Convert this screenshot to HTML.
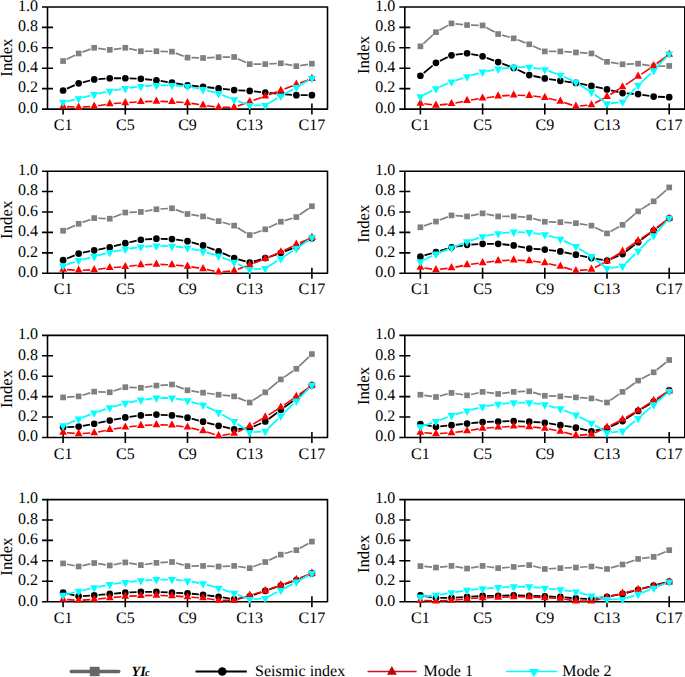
<!DOCTYPE html>
<html><head><meta charset="utf-8"><style>
html,body{margin:0;padding:0;background:#fff;}
body{width:685px;height:677px;overflow:hidden;}
svg{display:block;}
text{text-rendering:geometricPrecision;}
.tk{font-family:"Liberation Serif",serif;font-size:16px;fill:#000;}
.idx{font-family:"Liberation Serif",serif;font-size:16.8px;fill:#000;}
.lg{font-family:"Liberation Serif",serif;font-size:16px;fill:#000;}
</style></head><body>
<svg width="685" height="677" viewBox="0 0 685 677">
<g><path d="M42.0 7.0H327.5V109.1H42.0M47.5 7.0V109.1" stroke="#000" stroke-width="1.6" fill="none" stroke-linejoin="round"/><path d="M42.0 88.66H53.0M42.0 68.22H53.0M42.0 47.78H53.0M42.0 27.34H53.0M63.10 103.6V114.6M125.30 103.6V114.6M187.50 103.6V114.6M249.70 103.6V114.6M311.90 103.6V114.6" stroke="#000" stroke-width="1.6" fill="none"/><text x="38.0" y="112.90" text-anchor="end" class="tk">0.0</text><text x="38.0" y="92.46" text-anchor="end" class="tk">0.2</text><text x="38.0" y="72.02" text-anchor="end" class="tk">0.4</text><text x="38.0" y="51.58" text-anchor="end" class="tk">0.6</text><text x="38.0" y="31.14" text-anchor="end" class="tk">0.8</text><text x="38.0" y="10.70" text-anchor="end" class="tk">1.0</text><text x="63.10" y="130.10" text-anchor="middle" class="tk">C1</text><text x="125.30" y="130.10" text-anchor="middle" class="tk">C5</text><text x="187.50" y="130.10" text-anchor="middle" class="tk">C9</text><text x="249.70" y="130.10" text-anchor="middle" class="tk">C13</text><text x="311.90" y="130.10" text-anchor="middle" class="tk">C17</text><text transform="translate(11.799999999999997,57.60) rotate(-90)" text-anchor="middle" class="idx">Index</text><path d="M66.70 59.32L75.05 55.25M82.40 52.12L90.45 49.16M98.17 48.30L105.78 49.30M113.72 49.30L121.33 48.30M129.20 48.65L136.95 50.38M144.85 51.25L152.40 51.25M160.40 51.36L167.95 51.56M175.69 53.09L183.76 56.17M191.50 57.70L199.05 57.89M207.04 57.79L214.61 57.39M222.60 57.13L230.15 57.03M237.78 58.65L246.07 62.46M253.70 64.13L261.25 64.13M269.24 63.92L276.81 63.52M284.73 64.04L292.42 65.45M300.30 65.55L307.95 64.34" stroke="#808080" stroke-width="1.7" fill="none"/><rect x="60.25" y="58.21" width="5.7" height="5.7" fill="#808080"/><rect x="75.80" y="50.65" width="5.7" height="5.7" fill="#808080"/><rect x="91.35" y="44.93" width="5.7" height="5.7" fill="#808080"/><rect x="106.90" y="46.97" width="5.7" height="5.7" fill="#808080"/><rect x="122.45" y="44.93" width="5.7" height="5.7" fill="#808080"/><rect x="138.00" y="48.40" width="5.7" height="5.7" fill="#808080"/><rect x="153.55" y="48.40" width="5.7" height="5.7" fill="#808080"/><rect x="169.10" y="48.81" width="5.7" height="5.7" fill="#808080"/><rect x="184.65" y="54.74" width="5.7" height="5.7" fill="#808080"/><rect x="200.20" y="55.15" width="5.7" height="5.7" fill="#808080"/><rect x="215.75" y="54.33" width="5.7" height="5.7" fill="#808080"/><rect x="231.30" y="54.13" width="5.7" height="5.7" fill="#808080"/><rect x="246.85" y="61.28" width="5.7" height="5.7" fill="#808080"/><rect x="262.40" y="61.28" width="5.7" height="5.7" fill="#808080"/><rect x="277.95" y="60.46" width="5.7" height="5.7" fill="#808080"/><rect x="293.50" y="63.32" width="5.7" height="5.7" fill="#808080"/><rect x="309.05" y="60.87" width="5.7" height="5.7" fill="#808080"/><path d="M67.01 88.69L74.74 85.13M82.82 82.30L90.03 80.50M98.49 79.12L105.46 78.57M114.05 78.23L121.00 78.23M129.60 78.40L136.55 78.67M145.13 79.23L152.12 79.88M160.65 80.94L167.70 82.05M176.19 83.45L183.26 84.66M191.78 85.77L198.77 86.42M207.33 87.26L214.32 88.00M222.88 88.90L229.87 89.63M238.44 90.31L245.41 90.67M253.98 91.35L260.97 92.08M269.53 92.93L276.52 93.57M285.09 94.30L292.06 94.85M300.65 95.19L307.60 95.19" stroke="#000" stroke-width="1.8" fill="none"/><circle cx="63.10" cy="90.49" r="3.35" fill="#000"/><circle cx="78.65" cy="83.34" r="3.35" fill="#000"/><circle cx="94.20" cy="79.45" r="3.35" fill="#000"/><circle cx="109.75" cy="78.23" r="3.35" fill="#000"/><circle cx="125.30" cy="78.23" r="3.35" fill="#000"/><circle cx="140.85" cy="78.84" r="3.35" fill="#000"/><circle cx="156.40" cy="80.27" r="3.35" fill="#000"/><circle cx="171.95" cy="82.72" r="3.35" fill="#000"/><circle cx="187.50" cy="85.38" r="3.35" fill="#000"/><circle cx="203.05" cy="86.81" r="3.35" fill="#000"/><circle cx="218.60" cy="88.45" r="3.35" fill="#000"/><circle cx="234.15" cy="90.08" r="3.35" fill="#000"/><circle cx="249.70" cy="90.90" r="3.35" fill="#000"/><circle cx="265.25" cy="92.53" r="3.35" fill="#000"/><circle cx="280.80" cy="93.96" r="3.35" fill="#000"/><circle cx="296.35" cy="95.19" r="3.35" fill="#000"/><circle cx="311.90" cy="95.19" r="3.35" fill="#000"/><path d="M67.09 106.62L74.66 107.02M82.64 107.02L90.21 106.62M98.14 105.74L105.81 104.43M113.74 103.49L121.31 102.99M129.29 102.47L136.86 101.97M144.85 101.60L152.40 101.41M160.40 101.41L167.95 101.60M175.94 101.97L183.51 102.47M191.45 103.35L199.10 104.56M207.02 105.70L214.63 106.71M222.60 107.23L230.15 107.23M237.92 105.89L245.93 103.05M253.47 100.37L261.48 97.53M269.00 94.81L277.05 91.85M284.52 89.00L292.63 85.80M300.10 82.96L308.15 80.00" stroke="#ff0000" stroke-width="1.6" fill="none"/><polygon points="59.20,108.81 67.00,108.81 63.10,101.61" fill="#ff0000"/><polygon points="74.75,109.63 82.55,109.63 78.65,102.43" fill="#ff0000"/><polygon points="90.30,108.81 98.10,108.81 94.20,101.61" fill="#ff0000"/><polygon points="105.85,106.15 113.65,106.15 109.75,98.95" fill="#ff0000"/><polygon points="121.40,105.13 129.20,105.13 125.30,97.93" fill="#ff0000"/><polygon points="136.95,104.11 144.75,104.11 140.85,96.91" fill="#ff0000"/><polygon points="152.50,103.70 160.30,103.70 156.40,96.50" fill="#ff0000"/><polygon points="168.05,104.11 175.85,104.11 171.95,96.91" fill="#ff0000"/><polygon points="183.60,105.13 191.40,105.13 187.50,97.93" fill="#ff0000"/><polygon points="199.15,107.58 206.95,107.58 203.05,100.38" fill="#ff0000"/><polygon points="214.70,109.63 222.50,109.63 218.60,102.43" fill="#ff0000"/><polygon points="230.25,109.63 238.05,109.63 234.15,102.43" fill="#ff0000"/><polygon points="245.80,104.11 253.60,104.11 249.70,96.91" fill="#ff0000"/><polygon points="261.35,98.59 269.15,98.59 265.25,91.39" fill="#ff0000"/><polygon points="276.90,92.87 284.70,92.87 280.80,85.67" fill="#ff0000"/><polygon points="292.45,86.74 300.25,86.74 296.35,79.54" fill="#ff0000"/><polygon points="308.00,81.01 315.80,81.01 311.90,73.81" fill="#ff0000"/><path d="M67.00 101.27L74.75 99.54M82.52 97.65L90.33 95.59M98.10 93.71L105.85 91.98M113.69 90.43L121.36 89.12M129.27 87.93L136.88 86.92M144.84 86.14L152.41 85.64M160.40 85.38L167.95 85.38M175.94 85.64L183.51 86.14M191.42 87.18L199.13 88.69M206.92 90.49L214.73 92.54M222.32 95.02L230.43 98.22M237.90 101.07L245.95 104.03M253.70 105.41L261.25 105.41M268.67 103.34L277.38 98.08M284.30 94.08L292.85 89.36M299.79 85.39L308.46 80.26" stroke="#00ffff" stroke-width="1.8" fill="none"/><polygon points="59.00,99.67 67.20,99.67 63.10,107.07" fill="#00ffff"/><polygon points="74.55,96.20 82.75,96.20 78.65,103.60" fill="#00ffff"/><polygon points="90.10,92.11 98.30,92.11 94.20,99.51" fill="#00ffff"/><polygon points="105.65,88.64 113.85,88.64 109.75,96.04" fill="#00ffff"/><polygon points="121.20,85.98 129.40,85.98 125.30,93.38" fill="#00ffff"/><polygon points="136.75,83.94 144.95,83.94 140.85,91.34" fill="#00ffff"/><polygon points="152.30,82.91 160.50,82.91 156.40,90.31" fill="#00ffff"/><polygon points="167.85,82.91 176.05,82.91 171.95,90.31" fill="#00ffff"/><polygon points="183.40,83.94 191.60,83.94 187.50,91.34" fill="#00ffff"/><polygon points="198.95,87.00 207.15,87.00 203.05,94.40" fill="#00ffff"/><polygon points="214.50,91.09 222.70,91.09 218.60,98.49" fill="#00ffff"/><polygon points="230.05,97.22 238.25,97.22 234.15,104.62" fill="#00ffff"/><polygon points="245.60,102.94 253.80,102.94 249.70,110.34" fill="#00ffff"/><polygon points="261.15,102.94 269.35,102.94 265.25,110.34" fill="#00ffff"/><polygon points="276.70,93.54 284.90,93.54 280.80,100.94" fill="#00ffff"/><polygon points="292.25,84.96 300.45,84.96 296.35,92.36" fill="#00ffff"/><polygon points="307.80,75.76 316.00,75.76 311.90,83.16" fill="#00ffff"/></g>
<g><path d="M399.3 7.0H684.8V109.1H399.3M404.8 7.0V109.1" stroke="#000" stroke-width="1.6" fill="none" stroke-linejoin="round"/><path d="M399.3 88.66H410.3M399.3 68.22H410.3M399.3 47.78H410.3M399.3 27.34H410.3M420.40 103.6V114.6M482.60 103.6V114.6M544.80 103.6V114.6M607.00 103.6V114.6M669.20 103.6V114.6" stroke="#000" stroke-width="1.6" fill="none"/><text x="395.3" y="112.90" text-anchor="end" class="tk">0.0</text><text x="395.3" y="92.46" text-anchor="end" class="tk">0.2</text><text x="395.3" y="72.02" text-anchor="end" class="tk">0.4</text><text x="395.3" y="51.58" text-anchor="end" class="tk">0.6</text><text x="395.3" y="31.14" text-anchor="end" class="tk">0.8</text><text x="395.3" y="10.70" text-anchor="end" class="tk">1.0</text><text x="420.40" y="130.10" text-anchor="middle" class="tk">C1</text><text x="482.60" y="130.10" text-anchor="middle" class="tk">C5</text><text x="544.80" y="130.10" text-anchor="middle" class="tk">C9</text><text x="607.00" y="130.10" text-anchor="middle" class="tk">C13</text><text x="669.20" y="130.10" text-anchor="middle" class="tk">C17</text><text transform="translate(369.1,55.00) rotate(-90)" text-anchor="middle" class="idx">Index</text><path d="M423.36 43.62L432.99 34.89M439.43 30.24L448.02 25.38M455.48 23.83L463.07 24.63M471.05 25.16L478.60 25.35M486.10 27.39L494.65 32.11M502.01 35.11L509.84 37.27M517.44 39.76L525.51 42.84M532.88 45.93L541.17 49.74M548.80 51.41L556.35 51.41M564.34 51.68L571.91 52.17M579.89 52.70L587.46 53.20M594.97 55.36L603.48 59.94M610.95 62.46L618.60 63.67M626.55 64.13L634.10 63.83M642.04 64.35L649.71 65.66M657.65 66.23L665.20 66.03" stroke="#808080" stroke-width="1.7" fill="none"/><rect x="417.55" y="43.46" width="5.7" height="5.7" fill="#808080"/><rect x="433.10" y="29.35" width="5.7" height="5.7" fill="#808080"/><rect x="448.65" y="20.57" width="5.7" height="5.7" fill="#808080"/><rect x="464.20" y="22.20" width="5.7" height="5.7" fill="#808080"/><rect x="479.75" y="22.61" width="5.7" height="5.7" fill="#808080"/><rect x="495.30" y="31.19" width="5.7" height="5.7" fill="#808080"/><rect x="510.85" y="35.48" width="5.7" height="5.7" fill="#808080"/><rect x="526.40" y="41.41" width="5.7" height="5.7" fill="#808080"/><rect x="541.95" y="48.56" width="5.7" height="5.7" fill="#808080"/><rect x="557.50" y="48.56" width="5.7" height="5.7" fill="#808080"/><rect x="573.05" y="49.59" width="5.7" height="5.7" fill="#808080"/><rect x="588.60" y="50.61" width="5.7" height="5.7" fill="#808080"/><rect x="604.15" y="58.99" width="5.7" height="5.7" fill="#808080"/><rect x="619.70" y="61.44" width="5.7" height="5.7" fill="#808080"/><rect x="635.25" y="60.83" width="5.7" height="5.7" fill="#808080"/><rect x="650.80" y="63.48" width="5.7" height="5.7" fill="#808080"/><rect x="666.35" y="63.08" width="5.7" height="5.7" fill="#808080"/><path d="M423.71 72.99L432.64 65.60M439.82 60.97L447.63 57.17M455.76 54.73L462.79 53.81M471.27 54.08L478.38 55.48M486.64 57.80L494.11 60.55M502.17 63.57L509.68 66.43M517.61 69.76L525.34 73.32M533.46 76.00L540.59 77.50M549.05 79.06L556.10 80.17M564.61 81.40L571.64 82.32M580.12 83.72L587.23 85.12M595.65 86.89L602.80 88.49M611.18 90.41L618.37 92.11M626.84 93.38L633.81 93.84M642.35 94.79L649.40 95.91M657.95 96.75L664.90 97.02" stroke="#000" stroke-width="1.8" fill="none"/><circle cx="420.40" cy="75.73" r="3.35" fill="#000"/><circle cx="435.95" cy="62.86" r="3.35" fill="#000"/><circle cx="451.50" cy="55.29" r="3.35" fill="#000"/><circle cx="467.05" cy="53.25" r="3.35" fill="#000"/><circle cx="482.60" cy="56.32" r="3.35" fill="#000"/><circle cx="498.15" cy="62.04" r="3.35" fill="#000"/><circle cx="513.70" cy="67.96" r="3.35" fill="#000"/><circle cx="529.25" cy="75.12" r="3.35" fill="#000"/><circle cx="544.80" cy="78.39" r="3.35" fill="#000"/><circle cx="560.35" cy="80.84" r="3.35" fill="#000"/><circle cx="575.90" cy="82.88" r="3.35" fill="#000"/><circle cx="591.45" cy="85.95" r="3.35" fill="#000"/><circle cx="607.00" cy="89.42" r="3.35" fill="#000"/><circle cx="622.55" cy="93.10" r="3.35" fill="#000"/><circle cx="638.10" cy="94.12" r="3.35" fill="#000"/><circle cx="653.65" cy="96.58" r="3.35" fill="#000"/><circle cx="669.20" cy="97.19" r="3.35" fill="#000"/><path d="M424.37 103.82L431.98 104.82M439.93 104.92L447.52 104.13M455.42 102.93L463.13 101.42M471.00 100.02L478.65 98.81M486.57 97.67L494.18 96.67M502.14 95.88L509.71 95.39M517.70 95.23L525.25 95.43M533.22 96.05L540.83 97.06M548.69 98.50L556.46 100.33M564.15 102.50L572.10 105.12M579.88 106.00L587.47 105.30M594.97 103.04L603.48 98.45M610.40 94.45L619.15 89.05M625.85 84.69L634.80 78.58M641.42 74.09L650.33 68.13M656.85 63.50L666.00 56.65" stroke="#ff0000" stroke-width="1.6" fill="none"/><polygon points="416.50,105.70 424.30,105.70 420.40,98.50" fill="#ff0000"/><polygon points="432.05,107.74 439.85,107.74 435.95,100.54" fill="#ff0000"/><polygon points="447.60,106.11 455.40,106.11 451.50,98.91" fill="#ff0000"/><polygon points="463.15,103.04 470.95,103.04 467.05,95.84" fill="#ff0000"/><polygon points="478.70,100.59 486.50,100.59 482.60,93.39" fill="#ff0000"/><polygon points="494.25,98.55 502.05,98.55 498.15,91.35" fill="#ff0000"/><polygon points="509.80,97.52 517.60,97.52 513.70,90.32" fill="#ff0000"/><polygon points="525.35,97.93 533.15,97.93 529.25,90.73" fill="#ff0000"/><polygon points="540.90,99.98 548.70,99.98 544.80,92.78" fill="#ff0000"/><polygon points="556.45,103.66 564.25,103.66 560.35,96.46" fill="#ff0000"/><polygon points="572.00,108.76 579.80,108.76 575.90,101.56" fill="#ff0000"/><polygon points="587.55,107.33 595.35,107.33 591.45,100.13" fill="#ff0000"/><polygon points="603.10,98.95 610.90,98.95 607.00,91.75" fill="#ff0000"/><polygon points="618.65,89.35 626.45,89.35 622.55,82.15" fill="#ff0000"/><polygon points="634.20,78.72 642.00,78.72 638.10,71.52" fill="#ff0000"/><polygon points="649.75,68.30 657.55,68.30 653.65,61.10" fill="#ff0000"/><polygon points="665.30,56.65 673.10,56.65 669.20,49.45" fill="#ff0000"/><path d="M423.94 94.92L432.41 90.47M439.62 87.01L447.83 83.45M455.30 80.61L463.25 78.00M470.88 75.60L478.77 73.21M486.52 71.28L494.23 69.76M502.12 68.52L509.73 67.62M517.70 67.15L525.25 67.15M533.20 67.77L540.85 68.98M548.57 70.94L556.58 73.78M563.98 76.79L572.27 80.60M579.28 84.40L588.07 89.95M594.65 94.48L603.80 101.33M610.97 103.26L618.58 102.36M625.29 98.98L635.36 88.25M641.01 82.59L650.74 73.37M656.37 67.69L666.48 56.79" stroke="#00ffff" stroke-width="1.8" fill="none"/><polygon points="416.30,94.31 424.50,94.31 420.40,101.71" fill="#00ffff"/><polygon points="431.85,86.14 440.05,86.14 435.95,93.54" fill="#00ffff"/><polygon points="447.40,79.40 455.60,79.40 451.50,86.80" fill="#00ffff"/><polygon points="462.95,74.29 471.15,74.29 467.05,81.69" fill="#00ffff"/><polygon points="478.50,69.59 486.70,69.59 482.60,76.99" fill="#00ffff"/><polygon points="494.05,66.52 502.25,66.52 498.15,73.92" fill="#00ffff"/><polygon points="509.60,64.68 517.80,64.68 513.70,72.08" fill="#00ffff"/><polygon points="525.15,64.68 533.35,64.68 529.25,72.08" fill="#00ffff"/><polygon points="540.70,67.13 548.90,67.13 544.80,74.53" fill="#00ffff"/><polygon points="556.25,72.65 564.45,72.65 560.35,80.05" fill="#00ffff"/><polygon points="571.80,79.80 580.00,79.80 575.90,87.20" fill="#00ffff"/><polygon points="587.35,89.61 595.55,89.61 591.45,97.01" fill="#00ffff"/><polygon points="602.90,101.26 611.10,101.26 607.00,108.66" fill="#00ffff"/><polygon points="618.45,99.42 626.65,99.42 622.55,106.82" fill="#00ffff"/><polygon points="634.00,82.87 642.20,82.87 638.10,90.27" fill="#00ffff"/><polygon points="649.55,68.15 657.75,68.15 653.65,75.55" fill="#00ffff"/><polygon points="665.10,51.40 673.30,51.40 669.20,58.80" fill="#00ffff"/></g>
<g><path d="M42.0 171.19999999999996H327.5V273.29999999999995H42.0M47.5 171.19999999999996V273.29999999999995" stroke="#000" stroke-width="1.6" fill="none" stroke-linejoin="round"/><path d="M42.0 252.86H53.0M42.0 232.42H53.0M42.0 211.98H53.0M42.0 191.54H53.0M63.10 267.79999999999995V278.79999999999995M125.30 267.79999999999995V278.79999999999995M187.50 267.79999999999995V278.79999999999995M249.70 267.79999999999995V278.79999999999995M311.90 267.79999999999995V278.79999999999995" stroke="#000" stroke-width="1.6" fill="none"/><text x="38.0" y="277.10" text-anchor="end" class="tk">0.0</text><text x="38.0" y="256.66" text-anchor="end" class="tk">0.2</text><text x="38.0" y="236.22" text-anchor="end" class="tk">0.4</text><text x="38.0" y="215.78" text-anchor="end" class="tk">0.6</text><text x="38.0" y="195.34" text-anchor="end" class="tk">0.8</text><text x="38.0" y="174.90" text-anchor="end" class="tk">1.0</text><text x="63.10" y="294.30" text-anchor="middle" class="tk">C1</text><text x="125.30" y="294.30" text-anchor="middle" class="tk">C5</text><text x="187.50" y="294.30" text-anchor="middle" class="tk">C9</text><text x="249.70" y="294.30" text-anchor="middle" class="tk">C13</text><text x="311.90" y="294.30" text-anchor="middle" class="tk">C17</text><text transform="translate(11.799999999999997,219.80) rotate(-90)" text-anchor="middle" class="idx">Index</text><path d="M66.75 229.11L75.00 225.43M82.40 222.41L90.45 219.45M98.20 218.23L105.75 218.53M113.47 217.22L121.58 214.02M129.30 212.40L136.85 212.10M144.79 211.27L152.46 209.96M160.39 209.02L167.96 208.52M175.70 209.64L183.75 212.60M191.45 214.61L199.10 215.81M206.88 217.59L214.77 219.98M222.44 222.25L230.31 224.52M237.57 227.70L246.28 232.97M253.45 233.65L261.50 230.69M268.85 227.56L277.20 223.50M284.63 220.59L292.52 218.21M299.63 214.76L308.62 208.50" stroke="#808080" stroke-width="1.7" fill="none"/><rect x="60.25" y="227.89" width="5.7" height="5.7" fill="#808080"/><rect x="75.80" y="220.94" width="5.7" height="5.7" fill="#808080"/><rect x="91.35" y="215.22" width="5.7" height="5.7" fill="#808080"/><rect x="106.90" y="215.83" width="5.7" height="5.7" fill="#808080"/><rect x="122.45" y="209.70" width="5.7" height="5.7" fill="#808080"/><rect x="138.00" y="209.09" width="5.7" height="5.7" fill="#808080"/><rect x="153.55" y="206.43" width="5.7" height="5.7" fill="#808080"/><rect x="169.10" y="205.41" width="5.7" height="5.7" fill="#808080"/><rect x="184.65" y="211.13" width="5.7" height="5.7" fill="#808080"/><rect x="200.20" y="213.59" width="5.7" height="5.7" fill="#808080"/><rect x="215.75" y="218.29" width="5.7" height="5.7" fill="#808080"/><rect x="231.30" y="222.78" width="5.7" height="5.7" fill="#808080"/><rect x="246.85" y="232.18" width="5.7" height="5.7" fill="#808080"/><rect x="262.40" y="226.46" width="5.7" height="5.7" fill="#808080"/><rect x="277.95" y="218.90" width="5.7" height="5.7" fill="#808080"/><rect x="293.50" y="214.20" width="5.7" height="5.7" fill="#808080"/><rect x="309.05" y="203.37" width="5.7" height="5.7" fill="#808080"/><path d="M67.06 258.50L74.69 255.30M82.86 252.74L89.99 251.24M98.42 249.53L105.53 248.12M113.91 246.20L121.14 244.30M129.50 242.27L136.65 240.67M145.14 239.45L152.11 238.99M160.70 238.82L167.65 239.00M176.21 239.68L183.24 240.60M191.65 242.31L198.90 244.31M207.07 246.98L214.58 249.85M222.54 253.09L230.21 256.41M238.28 259.32L245.57 261.43M253.83 261.43L261.12 259.32M269.34 256.78L276.71 254.36M284.80 251.44L292.35 248.46M300.11 244.81L308.14 240.38" stroke="#000" stroke-width="1.8" fill="none"/><circle cx="63.10" cy="260.17" r="3.35" fill="#000"/><circle cx="78.65" cy="253.63" r="3.35" fill="#000"/><circle cx="94.20" cy="250.36" r="3.35" fill="#000"/><circle cx="109.75" cy="247.29" r="3.35" fill="#000"/><circle cx="125.30" cy="243.21" r="3.35" fill="#000"/><circle cx="140.85" cy="239.73" r="3.35" fill="#000"/><circle cx="156.40" cy="238.71" r="3.35" fill="#000"/><circle cx="171.95" cy="239.12" r="3.35" fill="#000"/><circle cx="187.50" cy="241.16" r="3.35" fill="#000"/><circle cx="203.05" cy="245.45" r="3.35" fill="#000"/><circle cx="218.60" cy="251.38" r="3.35" fill="#000"/><circle cx="234.15" cy="258.12" r="3.35" fill="#000"/><circle cx="249.70" cy="262.62" r="3.35" fill="#000"/><circle cx="265.25" cy="258.12" r="3.35" fill="#000"/><circle cx="280.80" cy="253.02" r="3.35" fill="#000"/><circle cx="296.35" cy="246.88" r="3.35" fill="#000"/><circle cx="311.90" cy="238.30" r="3.35" fill="#000"/><path d="M67.09 269.61L74.66 270.10M82.65 270.21L90.20 269.91M98.17 269.23L105.78 268.23M113.74 267.45L121.31 266.95M129.27 266.22L136.88 265.32M144.85 264.69L152.40 264.39M160.40 264.39L167.95 264.69M175.93 265.21L183.52 265.91M191.45 266.90L199.10 268.11M206.96 269.55L214.69 271.18M222.59 271.69L230.16 271.09M237.89 269.35L245.96 266.27M253.42 263.38L261.53 260.18M268.92 257.12L277.13 253.56M284.40 250.22L292.75 246.16M300.02 242.82L308.23 239.26" stroke="#ff0000" stroke-width="1.6" fill="none"/><polygon points="59.20,271.74 67.00,271.74 63.10,264.54" fill="#ff0000"/><polygon points="74.75,272.76 82.55,272.76 78.65,265.56" fill="#ff0000"/><polygon points="90.30,272.15 98.10,272.15 94.20,264.95" fill="#ff0000"/><polygon points="105.85,270.11 113.65,270.11 109.75,262.91" fill="#ff0000"/><polygon points="121.40,269.09 129.20,269.09 125.30,261.89" fill="#ff0000"/><polygon points="136.95,267.25 144.75,267.25 140.85,260.05" fill="#ff0000"/><polygon points="152.50,266.63 160.30,266.63 156.40,259.43" fill="#ff0000"/><polygon points="168.05,267.25 175.85,267.25 171.95,260.05" fill="#ff0000"/><polygon points="183.60,268.68 191.40,268.68 187.50,261.48" fill="#ff0000"/><polygon points="199.15,271.13 206.95,271.13 203.05,263.93" fill="#ff0000"/><polygon points="214.70,274.40 222.50,274.40 218.60,267.20" fill="#ff0000"/><polygon points="230.25,273.17 238.05,273.17 234.15,265.97" fill="#ff0000"/><polygon points="245.80,267.25 253.60,267.25 249.70,260.05" fill="#ff0000"/><polygon points="261.35,261.12 269.15,261.12 265.25,253.92" fill="#ff0000"/><polygon points="276.90,254.37 284.70,254.37 280.80,247.17" fill="#ff0000"/><polygon points="292.45,246.81 300.25,246.81 296.35,239.61" fill="#ff0000"/><polygon points="308.00,240.07 315.80,240.07 311.90,232.87" fill="#ff0000"/><path d="M66.89 264.60L74.86 261.87M82.52 259.56L90.33 257.51M98.07 255.47L105.88 253.42M113.67 251.63L121.38 250.11M129.25 248.71L136.90 247.51M144.84 246.62L152.41 246.12M160.40 245.97L167.95 246.17M175.93 246.69L183.52 247.49M191.39 248.83L199.16 250.66M206.89 252.70L214.76 254.97M222.32 257.55L230.43 260.74M237.75 263.96L246.10 268.02M253.68 269.41L261.27 268.71M268.65 266.24L277.40 260.84M284.14 256.54L293.01 250.72M299.63 246.23L308.62 239.97" stroke="#00ffff" stroke-width="1.8" fill="none"/><polygon points="59.00,263.42 67.20,263.42 63.10,270.82" fill="#00ffff"/><polygon points="74.55,258.11 82.75,258.11 78.65,265.51" fill="#00ffff"/><polygon points="90.10,254.02 98.30,254.02 94.20,261.42" fill="#00ffff"/><polygon points="105.65,249.94 113.85,249.94 109.75,257.34" fill="#00ffff"/><polygon points="121.20,246.87 129.40,246.87 125.30,254.27" fill="#00ffff"/><polygon points="136.75,244.42 144.95,244.42 140.85,251.82" fill="#00ffff"/><polygon points="152.30,243.40 160.50,243.40 156.40,250.80" fill="#00ffff"/><polygon points="167.85,243.80 176.05,243.80 171.95,251.20" fill="#00ffff"/><polygon points="183.40,245.44 191.60,245.44 187.50,252.84" fill="#00ffff"/><polygon points="198.95,249.12 207.15,249.12 203.05,256.52" fill="#00ffff"/><polygon points="214.50,253.61 222.70,253.61 218.60,261.01" fill="#00ffff"/><polygon points="230.05,259.75 238.25,259.75 234.15,267.15" fill="#00ffff"/><polygon points="245.60,267.31 253.80,267.31 249.70,274.71" fill="#00ffff"/><polygon points="261.15,265.88 269.35,265.88 265.25,273.28" fill="#00ffff"/><polygon points="276.70,256.27 284.90,256.27 280.80,263.67" fill="#00ffff"/><polygon points="292.25,246.05 300.45,246.05 296.35,253.45" fill="#00ffff"/><polygon points="307.80,235.22 316.00,235.22 311.90,242.62" fill="#00ffff"/></g>
<g><path d="M399.3 171.19999999999996H684.8V273.29999999999995H399.3M404.8 171.19999999999996V273.29999999999995" stroke="#000" stroke-width="1.6" fill="none" stroke-linejoin="round"/><path d="M399.3 252.86H410.3M399.3 232.42H410.3M399.3 211.98H410.3M399.3 191.54H410.3M420.40 267.79999999999995V278.79999999999995M482.60 267.79999999999995V278.79999999999995M544.80 267.79999999999995V278.79999999999995M607.00 267.79999999999995V278.79999999999995M669.20 267.79999999999995V278.79999999999995" stroke="#000" stroke-width="1.6" fill="none"/><text x="395.3" y="277.10" text-anchor="end" class="tk">0.0</text><text x="395.3" y="256.66" text-anchor="end" class="tk">0.2</text><text x="395.3" y="236.22" text-anchor="end" class="tk">0.4</text><text x="395.3" y="215.78" text-anchor="end" class="tk">0.6</text><text x="395.3" y="195.34" text-anchor="end" class="tk">0.8</text><text x="395.3" y="174.90" text-anchor="end" class="tk">1.0</text><text x="420.40" y="294.30" text-anchor="middle" class="tk">C1</text><text x="482.60" y="294.30" text-anchor="middle" class="tk">C5</text><text x="544.80" y="294.30" text-anchor="middle" class="tk">C9</text><text x="607.00" y="294.30" text-anchor="middle" class="tk">C13</text><text x="669.20" y="294.30" text-anchor="middle" class="tk">C17</text><text transform="translate(369.1,223.70) rotate(-90)" text-anchor="middle" class="idx">Index</text><path d="M424.15 225.89L432.20 222.93M439.67 220.08L447.78 216.88M455.49 215.68L463.06 216.17M470.97 215.66L478.68 214.14M486.52 214.14L494.23 215.66M502.15 216.44L509.70 216.44M517.69 216.70L525.26 217.20M533.11 218.52L540.94 220.69M548.80 221.86L556.35 222.05M564.34 222.42L571.91 222.92M579.85 223.80L587.50 225.01M595.03 227.42L603.42 231.61M610.50 231.47L619.05 226.75M625.57 222.19L635.08 213.95M641.46 209.16L650.29 203.48M656.63 198.65L666.22 190.08" stroke="#808080" stroke-width="1.7" fill="none"/><rect x="417.55" y="224.42" width="5.7" height="5.7" fill="#808080"/><rect x="433.10" y="218.70" width="5.7" height="5.7" fill="#808080"/><rect x="448.65" y="212.56" width="5.7" height="5.7" fill="#808080"/><rect x="464.20" y="213.59" width="5.7" height="5.7" fill="#808080"/><rect x="479.75" y="210.52" width="5.7" height="5.7" fill="#808080"/><rect x="495.30" y="213.59" width="5.7" height="5.7" fill="#808080"/><rect x="510.85" y="213.59" width="5.7" height="5.7" fill="#808080"/><rect x="526.40" y="214.61" width="5.7" height="5.7" fill="#808080"/><rect x="541.95" y="218.90" width="5.7" height="5.7" fill="#808080"/><rect x="557.50" y="219.31" width="5.7" height="5.7" fill="#808080"/><rect x="573.05" y="220.33" width="5.7" height="5.7" fill="#808080"/><rect x="588.60" y="222.78" width="5.7" height="5.7" fill="#808080"/><rect x="604.15" y="230.55" width="5.7" height="5.7" fill="#808080"/><rect x="619.70" y="221.97" width="5.7" height="5.7" fill="#808080"/><rect x="635.25" y="208.48" width="5.7" height="5.7" fill="#808080"/><rect x="650.80" y="198.46" width="5.7" height="5.7" fill="#808080"/><rect x="666.35" y="184.57" width="5.7" height="5.7" fill="#808080"/><path d="M424.52 255.45L431.83 253.24M440.07 250.75L447.38 248.54M455.75 246.62L462.80 245.51M471.34 244.56L478.31 244.10M486.90 243.82L493.85 243.82M502.43 244.27L509.42 245.00M517.92 246.28L525.03 247.69M533.54 248.80L540.51 249.26M549.07 250.05L556.08 250.87M564.56 252.26L571.69 253.77M580.10 255.59L587.25 257.19M595.70 258.79L602.75 259.91M610.96 258.91L618.59 255.70M625.97 251.43L634.68 244.79M641.54 239.61L650.21 233.11M657.03 227.87L665.82 220.93" stroke="#000" stroke-width="1.8" fill="none"/><circle cx="420.40" cy="256.69" r="3.35" fill="#000"/><circle cx="435.95" cy="251.99" r="3.35" fill="#000"/><circle cx="451.50" cy="247.29" r="3.35" fill="#000"/><circle cx="467.05" cy="244.84" r="3.35" fill="#000"/><circle cx="482.60" cy="243.82" r="3.35" fill="#000"/><circle cx="498.15" cy="243.82" r="3.35" fill="#000"/><circle cx="513.70" cy="245.45" r="3.35" fill="#000"/><circle cx="529.25" cy="248.52" r="3.35" fill="#000"/><circle cx="544.80" cy="249.54" r="3.35" fill="#000"/><circle cx="560.35" cy="251.38" r="3.35" fill="#000"/><circle cx="575.90" cy="254.65" r="3.35" fill="#000"/><circle cx="591.45" cy="258.12" r="3.35" fill="#000"/><circle cx="607.00" cy="260.58" r="3.35" fill="#000"/><circle cx="622.55" cy="254.04" r="3.35" fill="#000"/><circle cx="638.10" cy="242.18" r="3.35" fill="#000"/><circle cx="653.65" cy="230.53" r="3.35" fill="#000"/><circle cx="669.20" cy="218.27" r="3.35" fill="#000"/><path d="M424.35 267.92L432.00 269.13M439.92 269.28L447.53 268.38M455.42 267.14L463.13 265.62M471.02 264.33L478.63 263.32M486.57 262.28L494.18 261.28M502.15 260.60L509.70 260.30M517.70 260.30L525.25 260.60M533.22 261.28L540.83 262.28M548.70 263.68L556.45 265.41M564.19 267.39L572.06 269.66M579.88 270.41L587.47 269.71M594.99 267.48L603.46 263.03M610.38 259.03L619.17 253.49M625.85 249.10L634.80 242.99M641.40 238.47L650.35 232.36M656.83 227.68L666.02 220.67" stroke="#ff0000" stroke-width="1.6" fill="none"/><polygon points="416.50,269.70 424.30,269.70 420.40,262.50" fill="#ff0000"/><polygon points="432.05,272.15 439.85,272.15 435.95,264.95" fill="#ff0000"/><polygon points="447.60,270.31 455.40,270.31 451.50,263.11" fill="#ff0000"/><polygon points="463.15,267.25 470.95,267.25 467.05,260.05" fill="#ff0000"/><polygon points="478.70,265.20 486.50,265.20 482.60,258.00" fill="#ff0000"/><polygon points="494.25,263.16 502.05,263.16 498.15,255.96" fill="#ff0000"/><polygon points="509.80,262.55 517.60,262.55 513.70,255.35" fill="#ff0000"/><polygon points="525.35,263.16 533.15,263.16 529.25,255.96" fill="#ff0000"/><polygon points="540.90,265.20 548.70,265.20 544.80,258.00" fill="#ff0000"/><polygon points="556.45,268.68 564.25,268.68 560.35,261.48" fill="#ff0000"/><polygon points="572.00,273.17 579.80,273.17 575.90,265.97" fill="#ff0000"/><polygon points="587.55,271.74 595.35,271.74 591.45,264.54" fill="#ff0000"/><polygon points="603.10,263.57 610.90,263.57 607.00,256.37" fill="#ff0000"/><polygon points="618.65,253.76 626.45,253.76 622.55,246.56" fill="#ff0000"/><polygon points="634.20,243.13 642.00,243.13 638.10,235.93" fill="#ff0000"/><polygon points="649.75,232.50 657.55,232.50 653.65,225.30" fill="#ff0000"/><polygon points="665.30,220.65 673.10,220.65 669.20,213.45" fill="#ff0000"/><path d="M423.98 260.02L432.37 255.82M439.67 252.57L447.78 249.37M455.22 246.44L463.33 243.24M470.85 240.53L478.80 237.91M486.52 235.89L494.23 234.37M502.13 233.18L509.72 232.38M517.70 232.12L525.25 232.42M533.22 233.10L540.83 234.10M548.64 235.73L556.51 238.01M563.97 240.83L572.28 244.76M579.26 248.64L588.09 254.32M594.63 258.91L603.82 265.92M610.97 267.82L618.58 266.82M625.40 263.49L635.25 253.78M640.95 248.16L650.80 238.45M656.32 232.66L666.53 221.25" stroke="#00ffff" stroke-width="1.8" fill="none"/><polygon points="416.30,259.34 424.50,259.34 420.40,266.74" fill="#00ffff"/><polygon points="431.85,251.57 440.05,251.57 435.95,258.97" fill="#00ffff"/><polygon points="447.40,245.44 455.60,245.44 451.50,252.84" fill="#00ffff"/><polygon points="462.95,239.31 471.15,239.31 467.05,246.71" fill="#00ffff"/><polygon points="478.50,234.20 486.70,234.20 482.60,241.60" fill="#00ffff"/><polygon points="494.05,231.13 502.25,231.13 498.15,238.53" fill="#00ffff"/><polygon points="509.60,229.50 517.80,229.50 513.70,236.90" fill="#00ffff"/><polygon points="525.15,230.11 533.35,230.11 529.25,237.51" fill="#00ffff"/><polygon points="540.70,232.15 548.90,232.15 544.80,239.55" fill="#00ffff"/><polygon points="556.25,236.65 564.45,236.65 560.35,244.05" fill="#00ffff"/><polygon points="571.80,244.01 580.00,244.01 575.90,251.41" fill="#00ffff"/><polygon points="587.35,254.02 595.55,254.02 591.45,261.42" fill="#00ffff"/><polygon points="602.90,265.88 611.10,265.88 607.00,273.28" fill="#00ffff"/><polygon points="618.45,263.83 626.65,263.83 622.55,271.23" fill="#00ffff"/><polygon points="634.00,248.50 642.20,248.50 638.10,255.90" fill="#00ffff"/><polygon points="649.55,233.18 657.75,233.18 653.65,240.58" fill="#00ffff"/><polygon points="665.10,215.80 673.30,215.80 669.20,223.20" fill="#00ffff"/></g>
<g><path d="M42.0 335.4H327.5V437.5H42.0M47.5 335.4V437.5" stroke="#000" stroke-width="1.6" fill="none" stroke-linejoin="round"/><path d="M42.0 417.06H53.0M42.0 396.62H53.0M42.0 376.18H53.0M42.0 355.74H53.0M63.10 432.0V443.0M125.30 432.0V443.0M187.50 432.0V443.0M249.70 432.0V443.0M311.90 432.0V443.0" stroke="#000" stroke-width="1.6" fill="none"/><text x="38.0" y="441.30" text-anchor="end" class="tk">0.0</text><text x="38.0" y="420.86" text-anchor="end" class="tk">0.2</text><text x="38.0" y="400.42" text-anchor="end" class="tk">0.4</text><text x="38.0" y="379.98" text-anchor="end" class="tk">0.6</text><text x="38.0" y="359.54" text-anchor="end" class="tk">0.8</text><text x="38.0" y="339.10" text-anchor="end" class="tk">1.0</text><text x="63.10" y="458.50" text-anchor="middle" class="tk">C1</text><text x="125.30" y="458.50" text-anchor="middle" class="tk">C5</text><text x="187.50" y="458.50" text-anchor="middle" class="tk">C9</text><text x="249.70" y="458.50" text-anchor="middle" class="tk">C13</text><text x="311.90" y="458.50" text-anchor="middle" class="tk">C17</text><text transform="translate(11.799999999999997,388.90) rotate(-90)" text-anchor="middle" class="idx">Index</text><path d="M67.09 397.14L74.66 396.64M82.48 395.22L90.37 392.83M98.20 391.83L105.75 392.13M113.55 391.04L121.50 388.43M129.30 387.34L136.85 387.64M144.81 387.22L152.44 386.12M160.39 385.28L167.96 384.79M175.70 385.91L183.75 388.87M191.45 390.87L199.10 392.08M207.02 393.22L214.63 394.22M222.58 395.16L230.17 395.96M237.87 397.84L245.98 401.04M253.04 400.31L261.91 394.49M268.33 389.74L277.72 381.97M284.10 377.16L293.05 371.04M299.26 366.04L308.99 356.82" stroke="#808080" stroke-width="1.7" fill="none"/><rect x="60.25" y="394.55" width="5.7" height="5.7" fill="#808080"/><rect x="75.80" y="393.53" width="5.7" height="5.7" fill="#808080"/><rect x="91.35" y="388.83" width="5.7" height="5.7" fill="#808080"/><rect x="106.90" y="389.44" width="5.7" height="5.7" fill="#808080"/><rect x="122.45" y="384.33" width="5.7" height="5.7" fill="#808080"/><rect x="138.00" y="384.94" width="5.7" height="5.7" fill="#808080"/><rect x="153.55" y="382.70" width="5.7" height="5.7" fill="#808080"/><rect x="169.10" y="381.67" width="5.7" height="5.7" fill="#808080"/><rect x="184.65" y="387.40" width="5.7" height="5.7" fill="#808080"/><rect x="200.20" y="389.85" width="5.7" height="5.7" fill="#808080"/><rect x="215.75" y="391.89" width="5.7" height="5.7" fill="#808080"/><rect x="231.30" y="393.53" width="5.7" height="5.7" fill="#808080"/><rect x="246.85" y="399.66" width="5.7" height="5.7" fill="#808080"/><rect x="262.40" y="389.44" width="5.7" height="5.7" fill="#808080"/><rect x="277.95" y="376.56" width="5.7" height="5.7" fill="#808080"/><rect x="293.50" y="365.94" width="5.7" height="5.7" fill="#808080"/><rect x="309.05" y="351.22" width="5.7" height="5.7" fill="#808080"/><path d="M67.40 427.06L74.35 426.79M82.88 425.84L89.97 424.54M98.41 422.87L105.54 421.37M113.97 419.66L121.08 418.26M129.56 416.86L136.59 415.94M145.14 415.15L152.11 414.79M160.69 414.79L167.66 415.15M176.21 416.00L183.24 417.01M191.66 418.72L198.89 420.62M207.21 422.81L214.44 424.71M222.80 426.74L229.95 428.34M238.44 429.00L245.41 428.54M253.64 426.54L261.31 423.22M268.69 418.93L277.36 412.44M284.28 407.34L292.87 401.14M299.62 395.83L308.63 388.13" stroke="#000" stroke-width="1.8" fill="none"/><circle cx="63.10" cy="427.23" r="3.35" fill="#000"/><circle cx="78.65" cy="426.62" r="3.35" fill="#000"/><circle cx="94.20" cy="423.76" r="3.35" fill="#000"/><circle cx="109.75" cy="420.49" r="3.35" fill="#000"/><circle cx="125.30" cy="417.42" r="3.35" fill="#000"/><circle cx="140.85" cy="415.38" r="3.35" fill="#000"/><circle cx="156.40" cy="414.56" r="3.35" fill="#000"/><circle cx="171.95" cy="415.38" r="3.35" fill="#000"/><circle cx="187.50" cy="417.63" r="3.35" fill="#000"/><circle cx="203.05" cy="421.72" r="3.35" fill="#000"/><circle cx="218.60" cy="425.80" r="3.35" fill="#000"/><circle cx="234.15" cy="429.28" r="3.35" fill="#000"/><circle cx="249.70" cy="428.26" r="3.35" fill="#000"/><circle cx="265.25" cy="421.51" r="3.35" fill="#000"/><circle cx="280.80" cy="409.86" r="3.35" fill="#000"/><circle cx="296.35" cy="398.62" r="3.35" fill="#000"/><circle cx="311.90" cy="385.34" r="3.35" fill="#000"/><path d="M67.08 432.69L74.67 433.39M82.64 433.49L90.21 432.99M98.12 431.96L105.83 430.44M113.70 429.04L121.35 427.84M129.28 426.79L136.87 426.00M144.84 425.37L152.41 424.97M160.40 424.86L167.95 425.06M175.92 425.69L183.53 426.69M191.39 428.13L199.16 429.97M206.86 432.09L214.79 434.59M222.55 435.17L230.20 433.97M237.78 431.67L246.07 427.86M253.14 424.15L261.81 419.03M268.63 414.86L277.42 409.32M284.10 404.93L293.05 398.81M299.59 394.21L308.66 387.66" stroke="#ff0000" stroke-width="1.6" fill="none"/><polygon points="59.20,434.72 67.00,434.72 63.10,427.52" fill="#ff0000"/><polygon points="74.75,436.15 82.55,436.15 78.65,428.95" fill="#ff0000"/><polygon points="90.30,435.13 98.10,435.13 94.20,427.93" fill="#ff0000"/><polygon points="105.85,432.06 113.65,432.06 109.75,424.86" fill="#ff0000"/><polygon points="121.40,429.61 129.20,429.61 125.30,422.41" fill="#ff0000"/><polygon points="136.95,427.98 144.75,427.98 140.85,420.78" fill="#ff0000"/><polygon points="152.50,427.16 160.30,427.16 156.40,419.96" fill="#ff0000"/><polygon points="168.05,427.57 175.85,427.57 171.95,420.37" fill="#ff0000"/><polygon points="183.60,429.61 191.40,429.61 187.50,422.41" fill="#ff0000"/><polygon points="199.15,433.29 206.95,433.29 203.05,426.09" fill="#ff0000"/><polygon points="214.70,438.20 222.50,438.20 218.60,431.00" fill="#ff0000"/><polygon points="230.25,435.74 238.05,435.74 234.15,428.54" fill="#ff0000"/><polygon points="245.80,428.59 253.60,428.59 249.70,421.39" fill="#ff0000"/><polygon points="261.35,419.39 269.15,419.39 265.25,412.19" fill="#ff0000"/><polygon points="276.90,409.58 284.70,409.58 280.80,402.38" fill="#ff0000"/><polygon points="292.45,398.96 300.25,398.96 296.35,391.76" fill="#ff0000"/><polygon points="308.00,387.72 315.80,387.72 311.90,380.52" fill="#ff0000"/><path d="M66.77 424.21L74.98 420.65M82.37 417.59L90.48 414.39M98.00 411.68L105.95 409.07M113.59 406.71L121.46 404.43M129.21 402.50L136.94 400.88M144.82 399.53L152.43 398.53M160.40 398.01L167.95 398.01M175.89 398.68L183.56 399.99M191.34 401.78L199.21 404.05M206.67 406.87L214.98 410.81M222.06 414.52L230.69 419.51M237.43 423.80L246.42 430.06M253.69 432.08L261.26 431.58M268.10 428.51L277.95 418.80M283.69 413.22L293.46 403.84M299.16 398.23L309.09 388.18" stroke="#00ffff" stroke-width="1.8" fill="none"/><polygon points="59.00,423.34 67.20,423.34 63.10,430.74" fill="#00ffff"/><polygon points="74.55,416.59 82.75,416.59 78.65,423.99" fill="#00ffff"/><polygon points="90.10,410.46 98.30,410.46 94.20,417.86" fill="#00ffff"/><polygon points="105.65,405.35 113.85,405.35 109.75,412.75" fill="#00ffff"/><polygon points="121.20,400.86 129.40,400.86 125.30,408.26" fill="#00ffff"/><polygon points="136.75,397.59 144.95,397.59 140.85,404.99" fill="#00ffff"/><polygon points="152.30,395.54 160.50,395.54 156.40,402.94" fill="#00ffff"/><polygon points="167.85,395.54 176.05,395.54 171.95,402.94" fill="#00ffff"/><polygon points="183.40,398.20 191.60,398.20 187.50,405.60" fill="#00ffff"/><polygon points="198.95,402.69 207.15,402.69 203.05,410.09" fill="#00ffff"/><polygon points="214.50,410.05 222.70,410.05 218.60,417.45" fill="#00ffff"/><polygon points="230.05,419.04 238.25,419.04 234.15,426.44" fill="#00ffff"/><polygon points="245.60,429.88 253.80,429.88 249.70,437.28" fill="#00ffff"/><polygon points="261.15,428.85 269.35,428.85 265.25,436.25" fill="#00ffff"/><polygon points="276.70,413.53 284.90,413.53 280.80,420.93" fill="#00ffff"/><polygon points="292.25,398.61 300.45,398.61 296.35,406.01" fill="#00ffff"/><polygon points="307.80,382.87 316.00,382.87 311.90,390.27" fill="#00ffff"/></g>
<g><path d="M399.3 335.4H684.8V437.5H399.3M404.8 335.4V437.5" stroke="#000" stroke-width="1.6" fill="none" stroke-linejoin="round"/><path d="M399.3 417.06H410.3M399.3 396.62H410.3M399.3 376.18H410.3M399.3 355.74H410.3M420.40 432.0V443.0M482.60 432.0V443.0M544.80 432.0V443.0M607.00 432.0V443.0M669.20 432.0V443.0" stroke="#000" stroke-width="1.6" fill="none"/><text x="395.3" y="441.30" text-anchor="end" class="tk">0.0</text><text x="395.3" y="420.86" text-anchor="end" class="tk">0.2</text><text x="395.3" y="400.42" text-anchor="end" class="tk">0.4</text><text x="395.3" y="379.98" text-anchor="end" class="tk">0.6</text><text x="395.3" y="359.54" text-anchor="end" class="tk">0.8</text><text x="395.3" y="339.10" text-anchor="end" class="tk">1.0</text><text x="420.40" y="458.50" text-anchor="middle" class="tk">C1</text><text x="482.60" y="458.50" text-anchor="middle" class="tk">C5</text><text x="544.80" y="458.50" text-anchor="middle" class="tk">C9</text><text x="607.00" y="458.50" text-anchor="middle" class="tk">C13</text><text x="669.20" y="458.50" text-anchor="middle" class="tk">C17</text><text transform="translate(369.1,386.00) rotate(-90)" text-anchor="middle" class="idx">Index</text><path d="M424.36 395.32L431.99 396.42M439.82 395.97L447.63 393.92M455.45 393.53L463.10 394.73M470.95 394.48L478.70 392.75M486.57 392.40L494.18 393.40M502.12 393.40L509.73 392.40M517.70 391.72L525.25 391.43M533.09 392.38L540.96 394.65M548.80 395.92L556.35 396.22M564.34 396.64L571.91 397.14M579.89 397.66L587.46 398.16M595.32 399.44L603.13 401.49M610.30 400.25L619.25 394.14M625.79 389.54L634.86 382.98M641.62 378.74L650.13 374.16M656.79 369.78L666.06 362.48" stroke="#808080" stroke-width="1.7" fill="none"/><rect x="417.55" y="391.89" width="5.7" height="5.7" fill="#808080"/><rect x="433.10" y="394.14" width="5.7" height="5.7" fill="#808080"/><rect x="448.65" y="390.05" width="5.7" height="5.7" fill="#808080"/><rect x="464.20" y="392.51" width="5.7" height="5.7" fill="#808080"/><rect x="479.75" y="389.03" width="5.7" height="5.7" fill="#808080"/><rect x="495.30" y="391.08" width="5.7" height="5.7" fill="#808080"/><rect x="510.85" y="389.03" width="5.7" height="5.7" fill="#808080"/><rect x="526.40" y="388.42" width="5.7" height="5.7" fill="#808080"/><rect x="541.95" y="392.91" width="5.7" height="5.7" fill="#808080"/><rect x="557.50" y="393.53" width="5.7" height="5.7" fill="#808080"/><rect x="573.05" y="394.55" width="5.7" height="5.7" fill="#808080"/><rect x="588.60" y="395.57" width="5.7" height="5.7" fill="#808080"/><rect x="604.15" y="399.66" width="5.7" height="5.7" fill="#808080"/><rect x="619.70" y="389.03" width="5.7" height="5.7" fill="#808080"/><rect x="635.25" y="377.79" width="5.7" height="5.7" fill="#808080"/><rect x="650.80" y="369.41" width="5.7" height="5.7" fill="#808080"/><rect x="666.35" y="357.15" width="5.7" height="5.7" fill="#808080"/><path d="M424.64 424.89L431.71 426.10M440.23 426.38L447.22 425.64M455.78 424.74L462.77 424.00M471.33 423.16L478.32 422.52M486.90 421.95L493.85 421.68M502.45 421.40L509.40 421.22M518.00 421.27L524.95 421.55M533.54 422.00L540.51 422.46M549.05 423.41L556.10 424.52M564.60 425.86L571.65 426.97M580.08 428.63L587.27 430.33M595.67 430.49L602.78 429.09M610.91 426.46L618.64 422.90M626.14 418.74L634.51 413.25M641.80 408.69L649.95 403.88M657.13 399.17L665.72 392.97" stroke="#000" stroke-width="1.8" fill="none"/><circle cx="420.40" cy="424.17" r="3.35" fill="#000"/><circle cx="435.95" cy="426.82" r="3.35" fill="#000"/><circle cx="451.50" cy="425.19" r="3.35" fill="#000"/><circle cx="467.05" cy="423.55" r="3.35" fill="#000"/><circle cx="482.60" cy="422.12" r="3.35" fill="#000"/><circle cx="498.15" cy="421.51" r="3.35" fill="#000"/><circle cx="513.70" cy="421.10" r="3.35" fill="#000"/><circle cx="529.25" cy="421.72" r="3.35" fill="#000"/><circle cx="544.80" cy="422.74" r="3.35" fill="#000"/><circle cx="560.35" cy="425.19" r="3.35" fill="#000"/><circle cx="575.90" cy="427.64" r="3.35" fill="#000"/><circle cx="591.45" cy="431.32" r="3.35" fill="#000"/><circle cx="607.00" cy="428.26" r="3.35" fill="#000"/><circle cx="622.55" cy="421.10" r="3.35" fill="#000"/><circle cx="638.10" cy="410.88" r="3.35" fill="#000"/><circle cx="653.65" cy="401.69" r="3.35" fill="#000"/><circle cx="669.20" cy="390.45" r="3.35" fill="#000"/><path d="M424.38 432.69L431.97 433.39M439.94 433.49L447.51 432.99M455.47 432.26L463.08 431.36M470.99 430.22L478.66 428.91M486.59 427.97L494.16 427.47M502.14 426.95L509.71 426.45M517.70 426.35L525.25 426.65M533.23 427.17L540.82 427.87M548.72 429.01L556.43 430.53M564.22 432.32L572.03 434.37M579.89 435.12L587.46 434.63M595.08 432.69L603.37 428.88M610.58 425.42L618.97 421.23M626.01 417.44L634.64 412.46M641.48 408.32L650.27 402.78M657.05 398.54L665.80 393.14" stroke="#ff0000" stroke-width="1.6" fill="none"/><polygon points="416.50,434.72 424.30,434.72 420.40,427.52" fill="#ff0000"/><polygon points="432.05,436.15 439.85,436.15 435.95,428.95" fill="#ff0000"/><polygon points="447.60,435.13 455.40,435.13 451.50,427.93" fill="#ff0000"/><polygon points="463.15,433.29 470.95,433.29 467.05,426.09" fill="#ff0000"/><polygon points="478.70,430.63 486.50,430.63 482.60,423.43" fill="#ff0000"/><polygon points="494.25,429.61 502.05,429.61 498.15,422.41" fill="#ff0000"/><polygon points="509.80,428.59 517.60,428.59 513.70,421.39" fill="#ff0000"/><polygon points="525.35,429.20 533.15,429.20 529.25,422.00" fill="#ff0000"/><polygon points="540.90,430.63 548.70,430.63 544.80,423.43" fill="#ff0000"/><polygon points="556.45,433.70 564.25,433.70 560.35,426.50" fill="#ff0000"/><polygon points="572.00,437.79 579.80,437.79 575.90,430.59" fill="#ff0000"/><polygon points="587.55,436.76 595.35,436.76 591.45,429.56" fill="#ff0000"/><polygon points="603.10,429.61 610.90,429.61 607.00,422.41" fill="#ff0000"/><polygon points="618.65,421.85 626.45,421.85 622.55,414.65" fill="#ff0000"/><polygon points="634.20,412.85 642.00,412.85 638.10,405.65" fill="#ff0000"/><polygon points="649.75,403.04 657.55,403.04 653.65,395.84" fill="#ff0000"/><polygon points="665.30,393.44 673.10,393.44 669.20,386.24" fill="#ff0000"/><path d="M424.19 425.53L432.16 422.80M439.69 420.09L447.76 417.01M455.33 414.43L463.22 412.04M470.92 409.87L478.73 407.81M486.54 406.12L494.21 404.81M502.13 403.77L509.72 403.08M517.70 402.71L525.25 402.71M533.22 403.23L540.83 404.23M548.67 405.77L556.48 407.82M564.07 410.31L572.18 413.50M579.44 416.83L587.91 421.28M594.85 425.25L603.60 430.65M610.98 432.39L618.57 431.69M625.63 428.77L635.02 421.00M641.10 415.80L650.65 407.40M656.69 402.15L666.16 394.07" stroke="#00ffff" stroke-width="1.8" fill="none"/><polygon points="416.30,424.36 424.50,424.36 420.40,431.76" fill="#00ffff"/><polygon points="431.85,419.04 440.05,419.04 435.95,426.44" fill="#00ffff"/><polygon points="447.40,413.12 455.60,413.12 451.50,420.52" fill="#00ffff"/><polygon points="462.95,408.42 471.15,408.42 467.05,415.82" fill="#00ffff"/><polygon points="478.50,404.33 486.70,404.33 482.60,411.73" fill="#00ffff"/><polygon points="494.05,401.67 502.25,401.67 498.15,409.07" fill="#00ffff"/><polygon points="509.60,400.24 517.80,400.24 513.70,407.64" fill="#00ffff"/><polygon points="525.15,400.24 533.35,400.24 529.25,407.64" fill="#00ffff"/><polygon points="540.70,402.29 548.90,402.29 544.80,409.69" fill="#00ffff"/><polygon points="556.25,406.37 564.45,406.37 560.35,413.77" fill="#00ffff"/><polygon points="571.80,412.50 580.00,412.50 575.90,419.90" fill="#00ffff"/><polygon points="587.35,420.68 595.55,420.68 591.45,428.08" fill="#00ffff"/><polygon points="602.90,430.29 611.10,430.29 607.00,437.69" fill="#00ffff"/><polygon points="618.45,428.85 626.65,428.85 622.55,436.25" fill="#00ffff"/><polygon points="634.00,415.98 642.20,415.98 638.10,423.38" fill="#00ffff"/><polygon points="649.55,402.29 657.75,402.29 653.65,409.69" fill="#00ffff"/><polygon points="665.10,389.00 673.30,389.00 669.20,396.40" fill="#00ffff"/></g>
<g><path d="M42.0 499.5999999999999H327.5V601.6999999999999H42.0M47.5 499.5999999999999V601.6999999999999" stroke="#000" stroke-width="1.6" fill="none" stroke-linejoin="round"/><path d="M42.0 581.26H53.0M42.0 560.82H53.0M42.0 540.38H53.0M42.0 519.94H53.0M63.10 596.1999999999999V607.1999999999999M125.30 596.1999999999999V607.1999999999999M187.50 596.1999999999999V607.1999999999999M249.70 596.1999999999999V607.1999999999999M311.90 596.1999999999999V607.1999999999999" stroke="#000" stroke-width="1.6" fill="none"/><text x="38.0" y="605.50" text-anchor="end" class="tk">0.0</text><text x="38.0" y="585.06" text-anchor="end" class="tk">0.2</text><text x="38.0" y="564.62" text-anchor="end" class="tk">0.4</text><text x="38.0" y="544.18" text-anchor="end" class="tk">0.6</text><text x="38.0" y="523.74" text-anchor="end" class="tk">0.8</text><text x="38.0" y="503.30" text-anchor="end" class="tk">1.0</text><text x="63.10" y="622.70" text-anchor="middle" class="tk">C1</text><text x="125.30" y="622.70" text-anchor="middle" class="tk">C5</text><text x="187.50" y="622.70" text-anchor="middle" class="tk">C9</text><text x="249.70" y="622.70" text-anchor="middle" class="tk">C13</text><text x="311.90" y="622.70" text-anchor="middle" class="tk">C17</text><text transform="translate(11.799999999999997,556.60) rotate(-90)" text-anchor="middle" class="idx">Index</text><path d="M67.02 564.22L74.73 565.74M82.55 565.64L90.30 563.91M98.15 563.66L105.80 564.86M113.67 564.71L121.38 563.20M129.24 563.10L136.91 564.40M144.81 564.51L152.44 563.40M160.39 562.62L167.96 562.22M175.82 563.03L183.63 565.08M191.50 566.05L199.05 565.95M207.05 566.05L214.60 566.35M222.60 566.35L230.15 566.05M238.11 566.47L245.74 567.57M253.42 566.68L261.53 563.48M268.87 560.30L277.18 556.37M284.64 553.54L292.51 551.27M299.85 548.23L308.40 543.51" stroke="#808080" stroke-width="1.7" fill="none"/><rect x="60.25" y="560.59" width="5.7" height="5.7" fill="#808080"/><rect x="75.80" y="563.66" width="5.7" height="5.7" fill="#808080"/><rect x="91.35" y="560.18" width="5.7" height="5.7" fill="#808080"/><rect x="106.90" y="562.64" width="5.7" height="5.7" fill="#808080"/><rect x="122.45" y="559.57" width="5.7" height="5.7" fill="#808080"/><rect x="138.00" y="562.23" width="5.7" height="5.7" fill="#808080"/><rect x="153.55" y="559.98" width="5.7" height="5.7" fill="#808080"/><rect x="169.10" y="559.16" width="5.7" height="5.7" fill="#808080"/><rect x="184.65" y="563.25" width="5.7" height="5.7" fill="#808080"/><rect x="200.20" y="563.05" width="5.7" height="5.7" fill="#808080"/><rect x="215.75" y="563.66" width="5.7" height="5.7" fill="#808080"/><rect x="231.30" y="563.05" width="5.7" height="5.7" fill="#808080"/><rect x="246.85" y="565.29" width="5.7" height="5.7" fill="#808080"/><rect x="262.40" y="559.16" width="5.7" height="5.7" fill="#808080"/><rect x="277.95" y="551.81" width="5.7" height="5.7" fill="#808080"/><rect x="293.50" y="547.31" width="5.7" height="5.7" fill="#808080"/><rect x="309.05" y="538.73" width="5.7" height="5.7" fill="#808080"/><path d="M67.28 593.65L74.47 595.35M82.94 596.06L89.91 595.60M98.48 594.93L105.47 594.28M114.04 593.55L121.01 593.00M129.59 592.44L136.56 592.07M145.15 591.85L152.10 591.85M160.69 592.07L167.66 592.44M176.25 592.83L183.20 593.11M191.78 593.73L198.77 594.46M207.32 595.42L214.33 596.25M222.84 597.48L229.91 598.68M238.37 598.58L245.48 597.17M253.75 594.91L261.20 592.26M269.32 589.43L276.73 586.90M284.85 584.07L292.30 581.43M300.31 578.33L307.94 575.12" stroke="#000" stroke-width="1.8" fill="none"/><circle cx="63.10" cy="592.66" r="3.35" fill="#000"/><circle cx="78.65" cy="596.34" r="3.35" fill="#000"/><circle cx="94.20" cy="595.32" r="3.35" fill="#000"/><circle cx="109.75" cy="593.89" r="3.35" fill="#000"/><circle cx="125.30" cy="592.66" r="3.35" fill="#000"/><circle cx="140.85" cy="591.85" r="3.35" fill="#000"/><circle cx="156.40" cy="591.85" r="3.35" fill="#000"/><circle cx="171.95" cy="592.66" r="3.35" fill="#000"/><circle cx="187.50" cy="593.28" r="3.35" fill="#000"/><circle cx="203.05" cy="594.91" r="3.35" fill="#000"/><circle cx="218.60" cy="596.75" r="3.35" fill="#000"/><circle cx="234.15" cy="599.41" r="3.35" fill="#000"/><circle cx="249.70" cy="596.34" r="3.35" fill="#000"/><circle cx="265.25" cy="590.82" r="3.35" fill="#000"/><circle cx="280.80" cy="585.51" r="3.35" fill="#000"/><circle cx="296.35" cy="579.99" r="3.35" fill="#000"/><circle cx="311.90" cy="573.45" r="3.35" fill="#000"/><path d="M67.09 599.65L74.66 600.15M82.64 600.15L90.21 599.65M98.18 598.97L105.77 598.17M113.73 597.39L121.32 596.69M129.30 596.16L136.85 595.87M144.85 595.60L152.40 595.40M160.40 595.46L167.95 595.75M175.94 596.17L183.51 596.67M191.49 597.20L199.06 597.69M207.00 598.58L214.65 599.79M222.60 600.41L230.15 600.41M237.95 599.16L245.90 596.55M253.54 594.19L261.41 591.91M269.00 589.42L277.05 586.46M284.57 583.74L292.58 580.90M300.05 578.05L308.20 574.74" stroke="#ff0000" stroke-width="1.6" fill="none"/><polygon points="59.20,601.79 67.00,601.79 63.10,594.59" fill="#ff0000"/><polygon points="74.75,602.81 82.55,602.81 78.65,595.61" fill="#ff0000"/><polygon points="90.30,601.79 98.10,601.79 94.20,594.59" fill="#ff0000"/><polygon points="105.85,600.15 113.65,600.15 109.75,592.95" fill="#ff0000"/><polygon points="121.40,598.72 129.20,598.72 125.30,591.52" fill="#ff0000"/><polygon points="136.95,598.11 144.75,598.11 140.85,590.91" fill="#ff0000"/><polygon points="152.50,597.70 160.30,597.70 156.40,590.50" fill="#ff0000"/><polygon points="168.05,598.31 175.85,598.31 171.95,591.11" fill="#ff0000"/><polygon points="183.60,599.33 191.40,599.33 187.50,592.13" fill="#ff0000"/><polygon points="199.15,600.36 206.95,600.36 203.05,593.16" fill="#ff0000"/><polygon points="214.70,602.81 222.50,602.81 218.60,595.61" fill="#ff0000"/><polygon points="230.25,602.81 238.05,602.81 234.15,595.61" fill="#ff0000"/><polygon points="245.80,597.70 253.60,597.70 249.70,590.50" fill="#ff0000"/><polygon points="261.35,593.20 269.15,593.20 265.25,586.00" fill="#ff0000"/><polygon points="276.90,587.48 284.70,587.48 280.80,580.28" fill="#ff0000"/><polygon points="292.45,581.96 300.25,581.96 296.35,574.76" fill="#ff0000"/><polygon points="308.00,575.63 315.80,575.63 311.90,568.43" fill="#ff0000"/><path d="M66.97 594.30L74.78 592.25M82.55 590.36L90.30 588.63M98.11 586.94L105.84 585.31M113.72 583.97L121.33 582.97M129.27 581.98L136.88 581.08M144.84 580.34L152.41 579.85M160.40 579.58L167.95 579.58M175.93 579.95L183.52 580.65M191.44 581.69L199.11 583.00M206.89 584.78L214.76 587.06M222.40 589.42L230.35 592.03M237.87 594.74L245.98 597.94M253.69 599.15L261.26 598.65M268.79 596.53L277.26 592.07M284.34 588.35L292.81 583.90M299.85 580.10L308.40 575.39" stroke="#00ffff" stroke-width="1.8" fill="none"/><polygon points="59.00,592.85 67.20,592.85 63.10,600.25" fill="#00ffff"/><polygon points="74.55,588.77 82.75,588.77 78.65,596.17" fill="#00ffff"/><polygon points="90.10,585.29 98.30,585.29 94.20,592.69" fill="#00ffff"/><polygon points="105.65,582.02 113.85,582.02 109.75,589.42" fill="#00ffff"/><polygon points="121.20,579.98 129.40,579.98 125.30,587.38" fill="#00ffff"/><polygon points="136.75,578.14 144.95,578.14 140.85,585.54" fill="#00ffff"/><polygon points="152.30,577.12 160.50,577.12 156.40,584.52" fill="#00ffff"/><polygon points="167.85,577.12 176.05,577.12 171.95,584.52" fill="#00ffff"/><polygon points="183.40,578.55 191.60,578.55 187.50,585.95" fill="#00ffff"/><polygon points="198.95,581.21 207.15,581.21 203.05,588.61" fill="#00ffff"/><polygon points="214.50,585.70 222.70,585.70 218.60,593.10" fill="#00ffff"/><polygon points="230.05,590.81 238.25,590.81 234.15,598.21" fill="#00ffff"/><polygon points="245.60,596.94 253.80,596.94 249.70,604.34" fill="#00ffff"/><polygon points="261.15,595.92 269.35,595.92 265.25,603.32" fill="#00ffff"/><polygon points="276.70,587.75 284.90,587.75 280.80,595.15" fill="#00ffff"/><polygon points="292.25,579.57 300.45,579.57 296.35,586.97" fill="#00ffff"/><polygon points="307.80,570.99 316.00,570.99 311.90,578.39" fill="#00ffff"/></g>
<g><path d="M399.3 499.5999999999999H684.8V601.6999999999999H399.3M404.8 499.5999999999999V601.6999999999999" stroke="#000" stroke-width="1.6" fill="none" stroke-linejoin="round"/><path d="M399.3 581.26H410.3M399.3 560.82H410.3M399.3 540.38H410.3M399.3 519.94H410.3M420.40 596.1999999999999V607.1999999999999M482.60 596.1999999999999V607.1999999999999M544.80 596.1999999999999V607.1999999999999M607.00 596.1999999999999V607.1999999999999M669.20 596.1999999999999V607.1999999999999" stroke="#000" stroke-width="1.6" fill="none"/><text x="395.3" y="605.50" text-anchor="end" class="tk">0.0</text><text x="395.3" y="585.06" text-anchor="end" class="tk">0.2</text><text x="395.3" y="564.62" text-anchor="end" class="tk">0.4</text><text x="395.3" y="544.18" text-anchor="end" class="tk">0.6</text><text x="395.3" y="523.74" text-anchor="end" class="tk">0.8</text><text x="395.3" y="503.30" text-anchor="end" class="tk">1.0</text><text x="420.40" y="622.70" text-anchor="middle" class="tk">C1</text><text x="482.60" y="622.70" text-anchor="middle" class="tk">C5</text><text x="544.80" y="622.70" text-anchor="middle" class="tk">C9</text><text x="607.00" y="622.70" text-anchor="middle" class="tk">C13</text><text x="669.20" y="622.70" text-anchor="middle" class="tk">C17</text><text transform="translate(369.1,554.00) rotate(-90)" text-anchor="middle" class="idx">Index</text><path d="M424.38 566.47L431.97 567.16M439.93 567.11L447.52 566.31M455.44 566.57L463.11 567.88M470.99 567.88L478.66 566.57M486.56 566.47L494.19 567.57M502.14 567.83L509.71 567.23M517.67 566.45L525.28 565.55M533.13 566.05L540.92 567.99M548.79 568.75L556.36 568.35M564.35 567.99L571.90 567.69M579.89 567.27L587.46 566.77M595.40 567.13L603.05 568.34M610.84 567.85L618.71 565.58M626.32 563.13L634.33 560.28M642.07 558.43L649.68 557.42M657.32 555.31L665.53 551.75" stroke="#808080" stroke-width="1.7" fill="none"/><rect x="417.55" y="563.25" width="5.7" height="5.7" fill="#808080"/><rect x="433.10" y="564.68" width="5.7" height="5.7" fill="#808080"/><rect x="448.65" y="563.05" width="5.7" height="5.7" fill="#808080"/><rect x="464.20" y="565.70" width="5.7" height="5.7" fill="#808080"/><rect x="479.75" y="563.05" width="5.7" height="5.7" fill="#808080"/><rect x="495.30" y="565.29" width="5.7" height="5.7" fill="#808080"/><rect x="510.85" y="564.07" width="5.7" height="5.7" fill="#808080"/><rect x="526.40" y="562.23" width="5.7" height="5.7" fill="#808080"/><rect x="541.95" y="566.11" width="5.7" height="5.7" fill="#808080"/><rect x="557.50" y="565.29" width="5.7" height="5.7" fill="#808080"/><rect x="573.05" y="564.68" width="5.7" height="5.7" fill="#808080"/><rect x="588.60" y="563.66" width="5.7" height="5.7" fill="#808080"/><rect x="604.15" y="566.11" width="5.7" height="5.7" fill="#808080"/><rect x="619.70" y="561.62" width="5.7" height="5.7" fill="#808080"/><rect x="635.25" y="556.10" width="5.7" height="5.7" fill="#808080"/><rect x="650.80" y="554.05" width="5.7" height="5.7" fill="#808080"/><rect x="666.35" y="547.31" width="5.7" height="5.7" fill="#808080"/><path d="M424.64 596.05L431.71 597.25M440.25 597.92L447.20 597.83M455.79 597.55L462.76 597.18M471.34 596.67L478.31 596.22M486.90 595.88L493.85 595.79M502.45 595.62L509.40 595.43M518.00 595.43L524.95 595.62M533.55 595.90L540.50 596.17M549.10 596.51L556.05 596.79M564.63 597.35L571.62 597.99M580.20 598.56L587.15 598.83M595.71 598.38L602.74 597.37M611.23 595.97L618.32 594.67M626.71 592.80L633.94 590.90M642.25 588.66L649.50 586.66M657.82 584.47L665.03 582.67" stroke="#000" stroke-width="1.8" fill="none"/><circle cx="420.40" cy="595.32" r="3.35" fill="#000"/><circle cx="435.95" cy="597.98" r="3.35" fill="#000"/><circle cx="451.50" cy="597.77" r="3.35" fill="#000"/><circle cx="467.05" cy="596.96" r="3.35" fill="#000"/><circle cx="482.60" cy="595.93" r="3.35" fill="#000"/><circle cx="498.15" cy="595.73" r="3.35" fill="#000"/><circle cx="513.70" cy="595.32" r="3.35" fill="#000"/><circle cx="529.25" cy="595.73" r="3.35" fill="#000"/><circle cx="544.80" cy="596.34" r="3.35" fill="#000"/><circle cx="560.35" cy="596.96" r="3.35" fill="#000"/><circle cx="575.90" cy="598.39" r="3.35" fill="#000"/><circle cx="591.45" cy="599.00" r="3.35" fill="#000"/><circle cx="607.00" cy="596.75" r="3.35" fill="#000"/><circle cx="622.55" cy="593.89" r="3.35" fill="#000"/><circle cx="638.10" cy="589.80" r="3.35" fill="#000"/><circle cx="653.65" cy="585.51" r="3.35" fill="#000"/><circle cx="669.20" cy="581.63" r="3.35" fill="#000"/><path d="M424.40 600.57L431.95 600.86M439.95 600.86L447.50 600.57M455.48 599.99L463.07 599.19M471.04 598.51L478.61 598.01M486.60 597.65L494.15 597.45M502.15 597.19L509.70 596.89M517.70 596.78L525.25 596.88M533.24 597.14L540.81 597.54M548.80 597.91L556.35 598.21M564.29 599.04L571.96 600.35M579.90 601.02L587.45 601.02M595.34 600.10L603.11 598.26M610.87 596.33L618.68 594.27M626.44 592.33L634.21 590.50M642.00 588.70L649.75 586.97M657.52 585.09L665.33 583.03" stroke="#ff0000" stroke-width="1.6" fill="none"/><polygon points="416.50,602.81 424.30,602.81 420.40,595.61" fill="#ff0000"/><polygon points="432.05,603.42 439.85,603.42 435.95,596.22" fill="#ff0000"/><polygon points="447.60,602.81 455.40,602.81 451.50,595.61" fill="#ff0000"/><polygon points="463.15,601.17 470.95,601.17 467.05,593.97" fill="#ff0000"/><polygon points="478.70,600.15 486.50,600.15 482.60,592.95" fill="#ff0000"/><polygon points="494.25,599.74 502.05,599.74 498.15,592.54" fill="#ff0000"/><polygon points="509.80,599.13 517.60,599.13 513.70,591.93" fill="#ff0000"/><polygon points="525.35,599.33 533.15,599.33 529.25,592.13" fill="#ff0000"/><polygon points="540.90,600.15 548.70,600.15 544.80,592.95" fill="#ff0000"/><polygon points="556.45,600.76 564.25,600.76 560.35,593.56" fill="#ff0000"/><polygon points="572.00,603.42 579.80,603.42 575.90,596.22" fill="#ff0000"/><polygon points="587.55,603.42 595.35,603.42 591.45,596.22" fill="#ff0000"/><polygon points="603.10,599.74 610.90,599.74 607.00,592.54" fill="#ff0000"/><polygon points="618.65,595.66 626.45,595.66 622.55,588.46" fill="#ff0000"/><polygon points="634.20,591.98 642.00,591.98 638.10,584.78" fill="#ff0000"/><polygon points="649.75,588.50 657.55,588.50 653.65,581.30" fill="#ff0000"/><polygon points="665.30,584.42 673.10,584.42 669.20,577.22" fill="#ff0000"/><path d="M424.38 596.54L431.97 595.74M439.89 594.65L447.56 593.34M455.45 592.04L463.10 590.84M471.03 589.85L478.62 589.15M486.59 588.47L494.16 587.87M502.14 587.34L509.71 586.95M517.70 586.74L525.25 586.74M533.23 587.10L540.82 587.80M548.78 588.59L556.37 589.38M564.32 590.32L571.93 591.33M579.77 592.86L587.58 594.92M595.35 596.81L603.10 598.54M611.00 599.41L618.55 599.41M626.35 598.16L634.30 595.55M641.82 592.83L649.93 589.64M657.37 586.70L665.48 583.50" stroke="#00ffff" stroke-width="1.8" fill="none"/><polygon points="416.30,594.49 424.50,594.49 420.40,601.89" fill="#00ffff"/><polygon points="431.85,592.85 440.05,592.85 435.95,600.25" fill="#00ffff"/><polygon points="447.40,590.20 455.60,590.20 451.50,597.60" fill="#00ffff"/><polygon points="462.95,587.75 471.15,587.75 467.05,595.15" fill="#00ffff"/><polygon points="478.50,586.31 486.70,586.31 482.60,593.71" fill="#00ffff"/><polygon points="494.05,585.09 502.25,585.09 498.15,592.49" fill="#00ffff"/><polygon points="509.60,584.27 517.80,584.27 513.70,591.67" fill="#00ffff"/><polygon points="525.15,584.27 533.35,584.27 529.25,591.67" fill="#00ffff"/><polygon points="540.70,585.70 548.90,585.70 544.80,593.10" fill="#00ffff"/><polygon points="556.25,587.34 564.45,587.34 560.35,594.74" fill="#00ffff"/><polygon points="571.80,589.38 580.00,589.38 575.90,596.78" fill="#00ffff"/><polygon points="587.35,593.47 595.55,593.47 591.45,600.87" fill="#00ffff"/><polygon points="602.90,596.94 611.10,596.94 607.00,604.34" fill="#00ffff"/><polygon points="618.45,596.94 626.65,596.94 622.55,604.34" fill="#00ffff"/><polygon points="634.00,591.83 642.20,591.83 638.10,599.23" fill="#00ffff"/><polygon points="649.55,585.70 657.75,585.70 653.65,593.10" fill="#00ffff"/><polygon points="665.10,579.57 673.30,579.57 669.20,586.97" fill="#00ffff"/></g>
<g><path d="M71.2 671.5H118.8" stroke="#666" stroke-width="3.4" stroke-linecap="round"/><rect x="89.8" y="666.8" width="9.8" height="9.4" fill="#666"/><text x="131.5" y="675.5" class="lg" style="font-style:italic;font-weight:bold;font-size:14.2px">YI<tspan style="font-size:10.5px" dx="-0.8">c</tspan></text><path d="M195.5 671.5H246.8" stroke="#000" stroke-width="2"/><circle cx="222.3" cy="671.5" r="4.3" fill="#000"/><text x="255" y="675.5" class="lg">Seismic index</text><path d="M367.5 671.5H416.6" stroke="#c8141a" stroke-width="1.5"/><polygon points="387.00,674.80 396.80,674.80 391.90,666.00" fill="#c20000"/><text x="423.6" y="675.5" class="lg">Mode 1</text><path d="M505.9 671.5H557.3" stroke="#00ffff" stroke-width="1.6"/><polygon points="528.80,669.00 539.00,669.00 533.90,677.00" fill="#00ffff"/><text x="562.2" y="675.5" class="lg">Mode 2</text></g>
</svg>
</body></html>
